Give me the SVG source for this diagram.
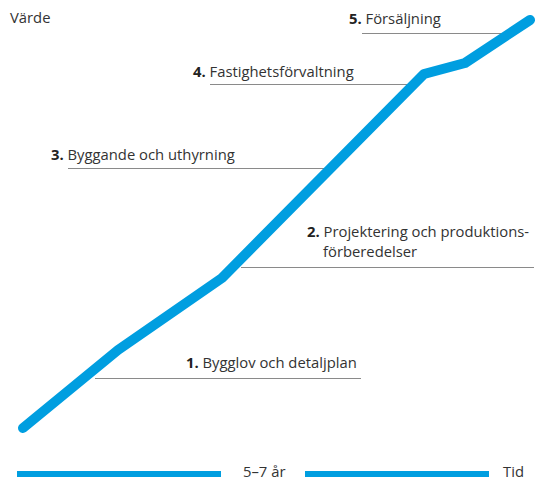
<svg xmlns="http://www.w3.org/2000/svg" width="536" height="480" viewBox="0 0 536 480">
<style>
text{font-family:"Open Sans","Noto Sans","Liberation Sans",sans-serif;font-size:14.8px;fill:#333}
.b{font-weight:bold;fill:#222}
.lead{stroke:#8a8a8a;stroke-width:1.2;fill:none}
.curve{stroke:#009ee0;stroke-width:10;fill:none;stroke-linecap:round;stroke-linejoin:round}
.bar{fill:#009ee0}
</style>
<rect width="536" height="480" fill="#fff"/>
<g id="connectors">
<line class="lead" x1="362" y1="33.5" x2="503" y2="33.5"/>
<line class="lead" x1="210" y1="84.5" x2="410" y2="84.5"/>
<line class="lead" x1="68" y1="168.5" x2="325" y2="168.5"/>
<line class="lead" x1="241" y1="267.5" x2="534" y2="267.5"/>
<line class="lead" x1="95" y1="378.5" x2="361" y2="378.5"/>
</g>
<g id="curve">
<polyline class="curve" points="23,428 118,350 222,278 424,74 465,63 530,20"/>
</g>
<g id="axis-y"><text x="10" y="23">Värde</text></g>
<g id="step5"><text x="349" y="24"><tspan class="b">5.</tspan> Försäljning</text></g>
<g id="step4"><text x="193" y="77"><tspan class="b">4.</tspan> Fastighetsförvaltning</text></g>
<g id="step3"><text x="51" y="160"><tspan class="b">3.</tspan> Byggande och uthyrning</text></g>
<g id="step2"><text x="307" y="237"><tspan class="b">2.</tspan> Projektering och produktions-</text><text x="323" y="257">förberedelser</text></g>
<g id="step1"><text x="186" y="368"><tspan class="b">1.</tspan> Bygglov och detaljplan</text></g>
<g id="axis-x">
<rect class="bar" x="17" y="471" width="204" height="6"/>
<rect class="bar" x="305" y="471" width="184" height="6"/>
<text x="243" y="477">5–7 år</text>
<text x="503" y="477">Tid</text>
</g>
</svg>
